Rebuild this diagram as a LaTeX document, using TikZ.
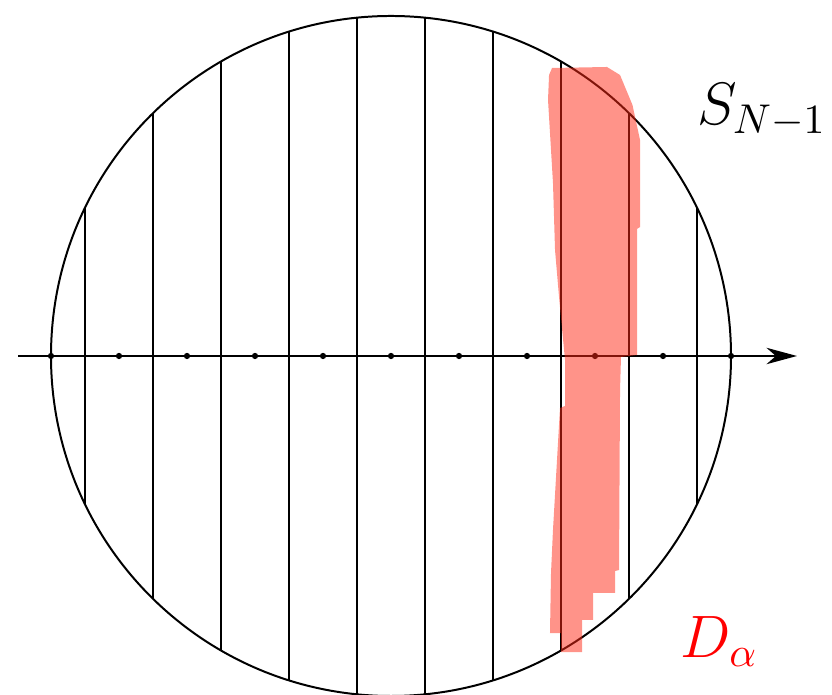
\documentclass[tikz,border=0pt]{standalone}
\usetikzlibrary{arrows.meta}
\definecolor{stripe}{RGB}{255,40,20}

\begin{document}
\begin{tikzpicture}[x=2.04cm, y=2.04cm, line width=1.7pt,
    lbl/.style={anchor=base west, inner sep=0pt, font=\Large, scale=3.55},
    axis/.style={-{Stealth[length=26pt, width=14pt, inset=8pt]}}]
  \useasboundingbox (-5.75,-4.985) rectangle (6.485,5.235);
  % sphere and slices
  \draw (0,0) circle (5);
  \foreach \x in {-4.5,-3.5,...,4.5} {
    \pgfmathsetmacro\h{sqrt(25-\x*\x)}
    \draw (\x,-\h) -- (\x,\h);
  }
  % axis with points
  \coordinate (start) at (-5.485,0);
  \coordinate (end) at (5.97,0);
  \draw[axis] (start) -- (end);
  \foreach \x in {-5,...,5}
    \fill (\x,0) circle (0.046);
  % marked slice
  \fill[stripe, fill opacity=0.5] (2.368,4.235) -- (3.176,4.25) -- (3.368,4.132)
    -- (3.551,3.691) -- (3.662,3.176) -- (3.662,1.897) -- (3.618,1.868)
    -- (3.618,0.015) -- (3.382,-0.015) -- (3.368,-0.5) -- (3.353,-3.147)
    -- (3.294,-3.162) -- (3.294,-3.485) -- (2.971,-3.485) -- (2.971,-3.882)
    -- (2.809,-3.882) -- (2.809,-4.353) -- (2.5,-4.353) -- (2.5,-4.074)
    -- (2.338,-4.074) -- (2.353,-3.191) -- (2.382,-2.559) -- (2.485,-0.765)
    -- (2.559,-0.735) -- (2.559,-0.059) -- (2.471,0.868) -- (2.412,1.559)
    -- (2.382,2.544) -- (2.309,3.765) -- (2.324,4.132) -- cycle;
  % labels
  \node[lbl] (sphere) at (4.45,3.397) {$S_{N-1}$};
  \node[lbl, text=red] (slice) at (4.206,-4.44) {$D_\alpha$};
\end{tikzpicture}
\end{document}
